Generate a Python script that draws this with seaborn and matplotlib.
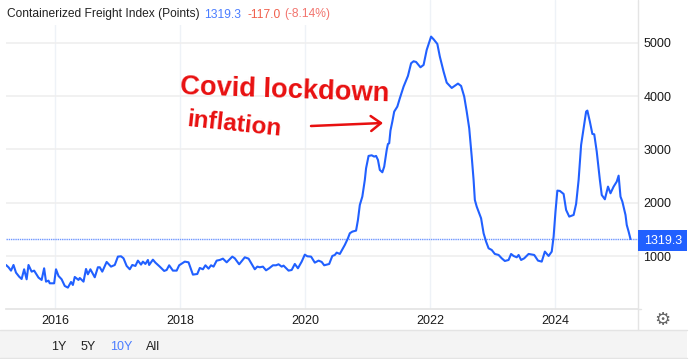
import matplotlib
matplotlib.use("Agg")
import matplotlib.pyplot as plt
from matplotlib.patches import Rectangle
import seaborn as sns

# valeurs
years = [
    2015.21, 2015.25, 2015.29, 2015.33, 2015.37, 2015.42, 2015.46, 2015.50, 2015.54, 2015.57,
    2015.62, 2015.66, 2015.73, 2015.78, 2015.82, 2015.85, 2015.89, 2015.91, 2015.98, 2016.01,
    2016.05, 2016.10, 2016.15, 2016.20, 2016.25, 2016.28, 2016.31, 2016.37, 2016.39, 2016.45,
    2016.49, 2016.52, 2016.56, 2016.63, 2016.68, 2016.71, 2016.75, 2016.82, 2016.89, 2016.95,
    2017.00, 2017.05, 2017.09, 2017.14, 2017.19, 2017.23, 2017.28, 2017.32, 2017.37, 2017.40,
    2017.44, 2017.48, 2017.50, 2017.56, 2017.60, 2017.67, 2017.74, 2017.78, 2017.82, 2017.88,
    2017.94, 2017.98, 2018.07, 2018.13, 2018.20, 2018.27, 2018.31, 2018.36, 2018.40, 2018.45,
    2018.49, 2018.53, 2018.58, 2018.63, 2018.68, 2018.74, 2018.83, 2018.87, 2018.94, 2019.03,
    2019.09, 2019.19, 2019.23, 2019.27, 2019.32, 2019.37, 2019.42, 2019.48, 2019.53, 2019.57,
    2019.62, 2019.65, 2019.73, 2019.78, 2019.83, 2019.88, 2019.94, 2019.99, 2020.03, 2020.09,
    2020.15, 2020.21, 2020.26, 2020.30, 2020.38, 2020.43, 2020.47, 2020.50, 2020.55, 2020.63,
    2020.68, 2020.71, 2020.75, 2020.81, 2020.84, 2020.87, 2020.91, 2020.95, 2020.97, 2021.01,
    2021.06, 2021.10, 2021.13, 2021.16, 2021.19, 2021.23, 2021.26, 2021.30, 2021.32, 2021.34,
    2021.36, 2021.39, 2021.42, 2021.47, 2021.51, 2021.57, 2021.64, 2021.69, 2021.73, 2021.77,
    2021.84, 2021.89, 2021.94, 2022.01, 2022.05, 2022.11, 2022.15, 2022.21, 2022.26, 2022.34,
    2022.44, 2022.49, 2022.54, 2022.58, 2022.62, 2022.66, 2022.69, 2022.71, 2022.74, 2022.77,
    2022.81, 2022.85, 2022.89, 2022.93, 2022.98, 2023.03, 2023.09, 2023.14, 2023.19, 2023.25,
    2023.29, 2023.33, 2023.38, 2023.41, 2023.45, 2023.50, 2023.57, 2023.66, 2023.72, 2023.78,
    2023.83, 2023.89, 2023.94, 2023.97, 2024.00, 2024.03, 2024.07, 2024.13, 2024.17, 2024.22,
    2024.29, 2024.33, 2024.37, 2024.41, 2024.45, 2024.49, 2024.51, 2024.55, 2024.59, 2024.62,
    2024.66, 2024.70, 2024.71, 2024.74, 2024.79, 2024.84, 2024.88, 2024.93, 2024.98, 2025.01,
    2025.04, 2025.07, 2025.12, 2025.14, 2025.17, 2025.20,
]
index_values = [
    832, 789, 726, 832, 688, 613, 569, 751, 563, 832,
    707, 726, 595, 551, 770, 519, 538, 488, 488, 751,
    626, 563, 438, 407, 513, 457, 607, 551, 588, 519,
    757, 657, 751, 601, 789, 789, 707, 889, 801, 832,
    989, 995, 957, 814, 751, 832, 814, 914, 839, 895,
    851, 926, 832, 932, 876, 801, 720, 738, 826, 726,
    726, 826, 895, 882, 651, 663, 776, 751, 826, 763,
    826, 801, 914, 926, 951, 882, 989, 957, 845, 976,
    951, 751, 801, 789, 801, 732, 770, 826, 826, 845,
    801, 820, 726, 738, 851, 770, 895, 1026, 995, 989,
    876, 914, 889, 826, 851, 1001, 1020, 1064, 1039, 1208,
    1333, 1427, 1458, 1477, 1677, 1959, 2115, 2428, 2647, 2879,
    2891, 2866, 2879, 2804, 2616, 2572, 2678, 2991, 3104, 3116,
    3354, 3523, 3711, 3805, 3961, 4180, 4381, 4618, 4656, 4643,
    4543, 4587, 4869, 5119, 5069, 4981, 4744, 4462, 4255, 4155,
    4237, 4193, 3993, 3711, 3398, 2866, 2428, 2053, 1927, 1834,
    1708, 1427, 1270, 1145, 1114, 1039, 1020, 957, 907, 926,
    1039, 1001, 976, 1020, 926, 957, 1039, 1020, 914, 895,
    1083, 1001, 1083, 1364, 1834, 2228, 2222, 2165, 1865, 1740,
    1771, 1978, 2428, 3085, 3398, 3711, 3730, 3523, 3292, 3285,
    2960, 2522, 2428, 2146, 2065, 2303, 2178, 2303, 2397, 2509,
    2115, 2021, 1771, 1583, 1458, 1319.3,
]
year_ticks = [2016, 2018, 2020, 2022, 2024]
value_ticks = [1000, 2000, 3000, 4000, 5000]
last_value = 1319.3
range_labels = ["1Y", "5Y", "10Y", "All"]

BLUE = "#2160ff"
RED = "#e81010"
W, H = 690, 359


def px(x, y):
    # pixels de l'image vers coordonnées figure
    return x / W, 1 - y / H


sns.set_theme(style="white")
plt.rcParams["font.family"] = ["Liberation Sans", "DejaVu Sans"]

fig = plt.figure(figsize=(6.9, 3.59), dpi=100, facecolor="white")
ax = fig.add_axes([6 / W, 1 - 309.3 / H, 632 / W, 309.3 / H])

sns.lineplot(x=years, y=index_values, estimator=None, errorbar=None, color=BLUE,
             linewidth=1.5, ax=ax, zorder=4)

ax.set_xlim(2015.21, 2025.32)
ax.set_ylim(0, 5806)
ax.set_xticks(year_ticks)
ax.set_xticklabels([str(y) for y in year_ticks])
ax.set_yticks(value_ticks)
ax.yaxis.tick_right()
ax.tick_params(axis="x", length=0, labelsize=9, pad=4, colors="#1a1a1a")
ax.tick_params(axis="y", length=0, labelsize=9, pad=4, colors="#1a1a1a")
ax.xaxis.grid(True, color="#eef2f7", linewidth=1)
ax.yaxis.grid(True, color="#eeeeee", linewidth=1.1)
ax.set_axisbelow(True)
ax.set_xlabel("")
ax.set_ylabel("")
for side in ["top", "left", "right"]:
    ax.spines[side].set_visible(False)
ax.spines["bottom"].set_color("#e4e4e4")

# ligne du dernier cours et étiquette
ax.axhline(last_value, color="#6f97ff", linewidth=1, linestyle=(0, (1, 0.6)), zorder=3)
fig.add_artist(Rectangle(px(638, 251), 49 / W, 21 / H, transform=fig.transFigure,
                         facecolor=BLUE, edgecolor="none", zorder=6))
fig.text(*px(663, 241.5), f"{last_value:.1f}", color="white", fontsize=9,
         ha="center", va="center", zorder=7)

# bandeau du titre
fig.add_artist(Rectangle(px(0, 25), 345 / W, 25 / H, transform=fig.transFigure,
                         facecolor="white", edgecolor="none", zorder=5))
title_parts = [
    (7, "Containerized Freight Index (Points)", "#222222"),
    (204.5, "1319.3", "#4a7dff"),
    (247, "-117.0", "#f0604d"),
    (284, "(-8.14%)", "#f2756f"),
]
for x0, label, col in title_parts:
    fig.text(*px(x0, 14.5), label, color=col, fontsize=8.65, ha="left", va="center", zorder=6)

# bas de la figure
fig.add_artist(plt.Line2D([638 / W, 638 / W], [1 - 330 / H, 1], color="#e4e4e4", linewidth=1,
                          transform=fig.transFigure))
fig.add_artist(plt.Line2D([638 / W, 641 / W], [1 - 309.3 / H, 1 - 309.3 / H], color="#e4e4e4",
                          linewidth=1, transform=fig.transFigure))
fig.add_artist(Rectangle(px(0, 358), 687 / W, 28 / H, transform=fig.transFigure,
                         facecolor="#f4f4f4", edgecolor="none"))
fig.add_artist(plt.Line2D([0, 687 / W], [1 - 330 / H, 1 - 330 / H], color="#e4e4e4", linewidth=1,
                          transform=fig.transFigure))
fig.add_artist(plt.Line2D([0, 687 / W], [1 - 358 / H, 1 - 358 / H], color="#e4e4e4", linewidth=1,
                          transform=fig.transFigure))
for x0, label in zip([59, 88, 121, 153], range_labels):
    col = "#4a7dff" if label == "10Y" else "#222222"
    fig.text(*px(x0, 346.5), label, color=col, fontsize=9, ha="center", va="center")
fig.text(*px(662, 320), "\u2699", color="#666666", fontsize=13, ha="center", va="center",
         family="DejaVu Sans")

# annotation à la main
fig.text(*px(180, 87), "Covid lockdown", color=RED, fontsize=19.6, fontweight="bold", ha="left",
         va="center", rotation=-2, rotation_mode="anchor", zorder=8)
fig.text(*px(187, 120), "inflation", color=RED, fontsize=17.5, fontweight="bold", ha="left",
         va="center", rotation=-6, rotation_mode="anchor", zorder=8)
ax.annotate("", xy=px(383, 123), xytext=px(311, 126), xycoords="figure fraction",
            textcoords="figure fraction",
            arrowprops=dict(arrowstyle="->,head_length=0.6,head_width=0.45", color=RED, lw=1.8,
                            shrinkA=0, shrinkB=0), zorder=8)

fig.savefig("out.png", dpi=100)
